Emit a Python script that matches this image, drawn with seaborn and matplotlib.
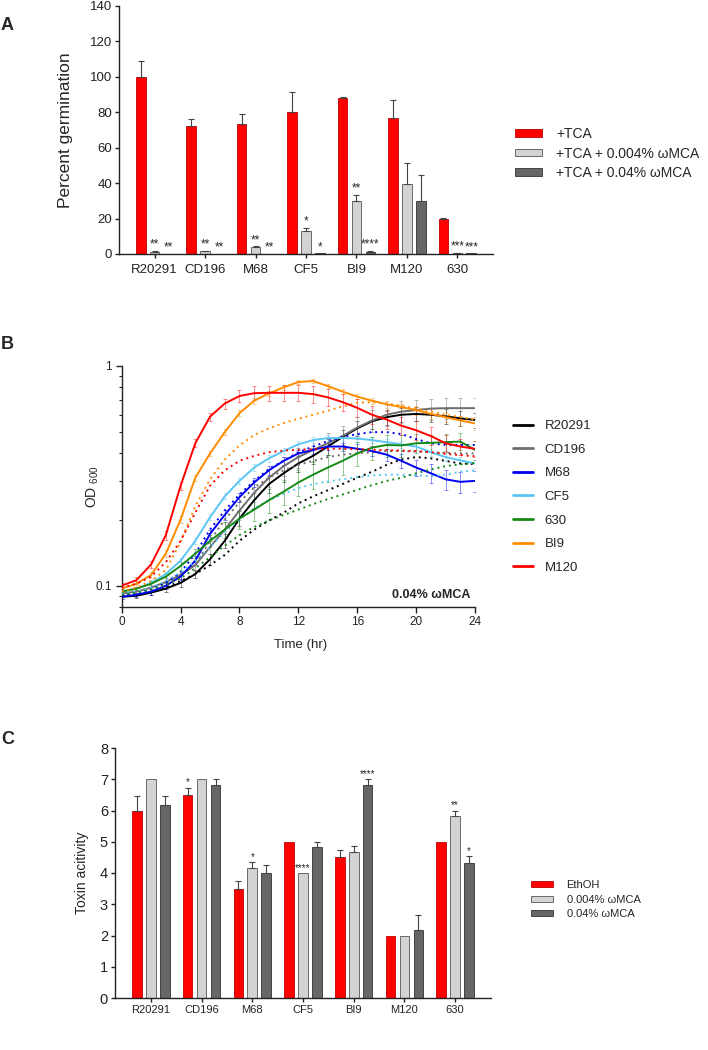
import numpy as np
import pandas as pd
import matplotlib
matplotlib.use("Agg")
import matplotlib.pyplot as plt
import seaborn as sns
from matplotlib.lines import Line2D
from matplotlib.patches import Patch
from matplotlib.ticker import LogLocator, NullFormatter, FixedLocator, FixedFormatter

strains = ["R20291", "CD196", "M68", "CF5", "BI9", "M120", "630"]

# --- A: germination (%) ---
germ_tca = [100, 72.5, 73.5, 80, 88, 77, 20]
germ_tca_err = [9, 3.5, 5.5, 11.5, 0.5, 10, 0.3]
germ_low = [1, 1.5, 4, 13, 30, 39.5, 0.5]
germ_low_err = [0.6, 0.3, 0.3, 1.5, 3.5, 12, 0.2]
germ_high = [0, 0.2, 0, 0.3, 1.2, 30, 0.3]
germ_high_err = [0, 0, 0, 0, 0.3, 14.5, 0]
germ_stars_tca = ["", "", "", "", "", "", ""]
germ_stars_low = ["**", "**", "**", "*", "**", "", "***"]
germ_stars_high = ["**", "**", "**", "*", "****", "", "***"]
labels_a = ["+TCA", "+TCA + 0.004% ωMCA", "+TCA + 0.04% ωMCA"]

# --- B: growth curves, OD600 every hour (solid = no MCA, dotted = 0.04% ωMCA) ---
hours = list(range(25))
od_r20291 = [0.089, 0.090, 0.093, 0.097, 0.103, 0.113, 0.132, 0.160, 0.202, 0.245, 0.290, 0.325, 0.360,
             0.390, 0.430, 0.475, 0.520, 0.560, 0.585, 0.600, 0.605, 0.600, 0.590, 0.578, 0.568]
od_r20291_mca = [0.090, 0.091, 0.094, 0.098, 0.105, 0.113, 0.124, 0.138, 0.160, 0.180, 0.198, 0.215, 0.237,
                 0.255, 0.272, 0.290, 0.310, 0.330, 0.355, 0.375, 0.385, 0.380, 0.370, 0.360, 0.358]
od_cd196 = [0.092, 0.094, 0.098, 0.104, 0.112, 0.124, 0.150, 0.180, 0.220, 0.265, 0.310, 0.350, 0.385,
            0.415, 0.445, 0.480, 0.525, 0.565, 0.600, 0.620, 0.630, 0.640, 0.643, 0.643, 0.643]
od_cd196_mca = [0.091, 0.093, 0.097, 0.103, 0.112, 0.125, 0.160, 0.200, 0.240, 0.280, 0.310, 0.335, 0.355,
                0.370, 0.385, 0.395, 0.400, 0.405, 0.410, 0.410, 0.408, 0.405, 0.402, 0.400, 0.400]
od_m68 = [0.089, 0.091, 0.094, 0.100, 0.110, 0.130, 0.172, 0.210, 0.253, 0.295, 0.335, 0.370, 0.400,
          0.415, 0.430, 0.430, 0.420, 0.410, 0.395, 0.370, 0.345, 0.325, 0.305, 0.297, 0.300]
od_m68_mca = [0.090, 0.092, 0.096, 0.103, 0.115, 0.140, 0.180, 0.220, 0.260, 0.300, 0.340, 0.370, 0.405,
              0.430, 0.455, 0.475, 0.490, 0.500, 0.500, 0.490, 0.465, 0.445, 0.437, 0.437, 0.437]
od_cf5 = [0.094, 0.097, 0.103, 0.113, 0.130, 0.160, 0.205, 0.255, 0.300, 0.345, 0.380, 0.410, 0.440,
          0.460, 0.470, 0.470, 0.468, 0.460, 0.450, 0.440, 0.430, 0.405, 0.385, 0.372, 0.360]
od_cf5_mca = [0.092, 0.094, 0.098, 0.105, 0.115, 0.130, 0.150, 0.175, 0.200, 0.225, 0.245, 0.262, 0.278,
              0.290, 0.298, 0.305, 0.312, 0.318, 0.320, 0.320, 0.318, 0.315, 0.320, 0.330, 0.335]
od_630 = [0.094, 0.097, 0.102, 0.110, 0.123, 0.140, 0.160, 0.180, 0.202, 0.222, 0.245, 0.268, 0.295,
          0.320, 0.345, 0.370, 0.400, 0.425, 0.437, 0.435, 0.445, 0.447, 0.450, 0.453, 0.415]
od_630_mca = [0.091, 0.093, 0.096, 0.101, 0.108, 0.120, 0.135, 0.152, 0.170, 0.185, 0.198, 0.210, 0.222,
              0.235, 0.248, 0.260, 0.273, 0.287, 0.300, 0.310, 0.325, 0.338, 0.350, 0.357, 0.362]
od_bi9 = [0.097, 0.102, 0.112, 0.140, 0.200, 0.310, 0.400, 0.500, 0.610, 0.695, 0.750, 0.800, 0.845,
          0.855, 0.810, 0.765, 0.725, 0.695, 0.670, 0.650, 0.630, 0.605, 0.585, 0.565, 0.548]
od_bi9_mca = [0.094, 0.098, 0.105, 0.118, 0.158, 0.230, 0.305, 0.375, 0.435, 0.485, 0.520, 0.550, 0.575,
              0.600, 0.625, 0.655, 0.680, 0.685, 0.675, 0.660, 0.640, 0.620, 0.600, 0.585, 0.570]
od_m120 = [0.100, 0.106, 0.125, 0.170, 0.285, 0.445, 0.588, 0.675, 0.730, 0.752, 0.755, 0.755, 0.755,
           0.745, 0.720, 0.685, 0.645, 0.600, 0.570, 0.535, 0.510, 0.480, 0.445, 0.430, 0.420]
od_m120_mca = [0.098, 0.102, 0.110, 0.128, 0.160, 0.215, 0.285, 0.335, 0.370, 0.390, 0.405, 0.412, 0.416,
               0.418, 0.420, 0.420, 0.418, 0.416, 0.414, 0.412, 0.410, 0.405, 0.398, 0.393, 0.388]

err_r20291 = [0.002, 0.002, 0.002, 0.003, 0.004, 0.005, 0.008, 0.012, 0.016, 0.020, 0.025, 0.028, 0.030,
              0.033, 0.035, 0.038, 0.040, 0.042, 0.044, 0.045, 0.045, 0.045, 0.045, 0.045, 0.045]
err_cd196 = [0.002, 0.002, 0.003, 0.004, 0.005, 0.007, 0.010, 0.015, 0.020, 0.025, 0.030, 0.035, 0.040,
             0.045, 0.050, 0.055, 0.060, 0.065, 0.065, 0.070, 0.070, 0.070, 0.070, 0.070, 0.070]
err_m68 = [0.002, 0.002, 0.003, 0.003, 0.004, 0.006, 0.008, 0.010, 0.012, 0.014, 0.015, 0.016, 0.016,
           0.016, 0.016, 0.018, 0.020, 0.022, 0.025, 0.028, 0.030, 0.032, 0.033, 0.033, 0.033]
err_cf5 = [0.002, 0.002, 0.003, 0.003, 0.004, 0.005, 0.006, 0.008, 0.010, 0.012, 0.013, 0.014, 0.015,
           0.015, 0.015, 0.015, 0.015, 0.015, 0.015, 0.015, 0.015, 0.015, 0.015, 0.015, 0.015]
err_630 = [0.002, 0.002, 0.003, 0.004, 0.005, 0.007, 0.010, 0.015, 0.020, 0.025, 0.030, 0.035, 0.040,
           0.045, 0.050, 0.050, 0.050, 0.050, 0.050, 0.050, 0.045, 0.040, 0.040, 0.040, 0.040]
err_bi9 = [0.002, 0.003, 0.004, 0.005, 0.007, 0.010, 0.012, 0.015, 0.018, 0.020, 0.020, 0.020, 0.020,
           0.020, 0.020, 0.020, 0.020, 0.020, 0.025, 0.025, 0.030, 0.030, 0.030, 0.030, 0.035]
err_m120 = [0.003, 0.004, 0.005, 0.008, 0.012, 0.018, 0.025, 0.035, 0.045, 0.055, 0.060, 0.065, 0.065,
            0.065, 0.065, 0.060, 0.060, 0.055, 0.055, 0.050, 0.050, 0.045, 0.040, 0.035, 0.035]

strains_b = ["R20291", "CD196", "M68", "CF5", "630", "BI9", "M120"]
colors_b = ["#000000", "#6E6E6E", "#0000F0", "#5BC6F5", "#168A16", "#FF8C00", "#FF0000"]
od_ctrl = [od_r20291, od_cd196, od_m68, od_cf5, od_630, od_bi9, od_m120]
od_mca = [od_r20291_mca, od_cd196_mca, od_m68_mca, od_cf5_mca, od_630_mca, od_bi9_mca, od_m120_mca]
od_err = [err_r20291, err_cd196, err_m68, err_cf5, err_630, err_bi9, err_m120]

# --- C: toxin activity ---
toxin_eth = [6.0, 6.5, 3.5, 5.0, 4.5, 2.0, 5.0]
toxin_eth_err = [0.45, 0.23, 0.23, 0, 0.23, 0, 0]
toxin_low = [7.0, 7.0, 4.17, 4.0, 4.67, 2.0, 5.83]
toxin_low_err = [0, 0, 0.17, 0, 0.21, 0, 0.17]
toxin_high = [6.17, 6.83, 4.0, 4.83, 6.83, 2.17, 4.33]
toxin_high_err = [0.31, 0.17, 0.25, 0.17, 0.17, 0.48, 0.2]
toxin_stars_eth = ["", "*", "", "", "", "", ""]
toxin_stars_low = ["", "", "*", "****", "", "", "**"]
toxin_stars_high = ["", "", "", "", "****", "", "*"]
labels_c = ["EthOH", "0.004% ωMCA", "0.04% ωMCA"]

bar_colors = ["#FF0000", "#D3D3D3", "#666666"]
bar_edges = ["#C00000", "#555555", "#333333"]

W, H = 708, 1050


def px_box(left, top, right, bottom):
    return [left / W, 1 - bottom / H, (right - left) / W, (bottom - top) / H]


sns.set_style("ticks")
plt.rcParams["font.family"] = ["Liberation Sans", "DejaVu Sans"]
plt.rcParams["axes.edgecolor"] = "#222222"
plt.rcParams["axes.linewidth"] = 1.0
plt.rcParams["xtick.color"] = "#222222"
plt.rcParams["ytick.color"] = "#222222"

fig = plt.figure(figsize=(W / 100, H / 100), dpi=100)
axA = fig.add_axes(px_box(119, 6, 493, 254))
axB = fig.add_axes(px_box(121.7, 366, 475, 607))
axC = fig.add_axes(px_box(115, 748, 491, 998))


def bar_panel(ax, vals, errs, stars, groups, star_fs):
    df = pd.DataFrame({
        "strain": strains * len(groups),
        "value": [v for series in vals for v in series],
        "group": [g for g in groups for _ in strains],
    })
    sns.barplot(data=df, x="strain", y="value", hue="group", palette=bar_colors,
                width=0.825, gap=0.31, errorbar=None, legend=False, ax=ax,
                linewidth=0.6, edgecolor="#333333", saturation=1)
    for cont, err, st, ec in zip(ax.containers, errs, stars, bar_edges):
        for bar, e, s in zip(cont, err, st):
            bar.set_edgecolor(ec)
            x = bar.get_x() + bar.get_width() / 2
            h = bar.get_height()
            if e > 0:
                ax.errorbar(x, h, yerr=[[0], [e]], fmt="none", ecolor="#444444",
                            elinewidth=0.8, capsize=2.5, capthick=0.8)
            if s:
                ax.annotate(s, (x, h + e), xytext=(0, 0.3), textcoords="offset points",
                            ha="center", va="bottom", fontsize=star_fs)
    ax.set_xlabel("")


# ---- Panel A ----
bar_panel(axA, [germ_tca, germ_low, germ_high],
          [germ_tca_err, germ_low_err, germ_high_err],
          [germ_stars_tca, germ_stars_low, germ_stars_high], labels_a, 8.5)
axA.set_ylim(0, 140)
axA.set_yticks(np.arange(0, 141, 20))
axA.set_ylabel("Percent germination", fontsize=12.5)
axA.yaxis.label.set_va("center")
axA.yaxis.set_label_coords(-0.144, 0.5)
axA.tick_params(axis="both", length=3, width=1, labelsize=9.5, pad=2)
axA.tick_params(axis="x", pad=4)
sns.despine(ax=axA)
fig.legend([Patch(facecolor=c, edgecolor=e, lw=0.6) for c, e in zip(bar_colors, bar_edges)],
           labels_a, loc="upper left", bbox_to_anchor=(515 / W, 1 - 127 / H), frameon=False,
           fontsize=10, handlelength=1.95, handleheight=0.45, handletextpad=1.0,
           labelspacing=0.4, borderpad=0, borderaxespad=0)

# ---- Panel B ----
rows = []
for name, ctrl, mca in zip(strains_b, od_ctrl, od_mca):
    for t, a, b in zip(hours, ctrl, mca):
        rows.append({"time": t, "od": a, "strain": name, "cond": "control"})
        rows.append({"time": t, "od": b, "strain": name, "cond": "0.04% ωMCA"})
dfB = pd.DataFrame(rows)

for name, c, ctrl, err in zip(strains_b, colors_b, od_ctrl, od_err):
    axB.errorbar(hours, ctrl, yerr=err, fmt="none", ecolor=c, alpha=0.45,
                 elinewidth=0.7, capsize=1.6, capthick=0.7, zorder=1)
sns.lineplot(data=dfB, x="time", y="od", hue="strain", style="cond",
             palette=dict(zip(strains_b, colors_b)), hue_order=strains_b,
             dashes={"control": "", "0.04% ωMCA": (1, 2)}, linewidth=1.4,
             errorbar=None, legend=False, ax=axB, zorder=3)
axB.set_yscale("log")
axB.set_ylim(0.08, 1)
axB.set_xlim(0, 24)
axB.set_xticks(np.arange(0, 25, 4))
axB.yaxis.set_major_locator(FixedLocator([0.1, 1]))
axB.yaxis.set_major_formatter(FixedFormatter(["0.1", "1"]))
axB.yaxis.set_minor_locator(LogLocator(base=10, subs=np.arange(2, 10)))
axB.yaxis.set_minor_formatter(NullFormatter())
axB.tick_params(axis="x", length=4, width=1, labelsize=8.5, pad=2.5)
axB.tick_params(axis="y", which="major", length=4.5, width=1, labelsize=8.5, pad=2.5)
axB.tick_params(axis="y", which="minor", length=2.5, width=0.8)
axB.set_xlabel("Time (hr)", fontsize=9.5)
axB.xaxis.label.set_va("center")
axB.xaxis.set_label_coords(0.505, -0.158)
axB.set_ylabel(r"OD $_{\mathregular{600}}$", fontsize=10)
axB.yaxis.label.set_va("center")
axB.yaxis.set_label_coords(-0.081, 0.5)
axB.text(0.986, 0.05, "0.04% ωMCA", transform=axB.transAxes, ha="right", va="center",
         fontsize=9, fontweight="bold")
sns.despine(ax=axB)
fig.legend([Line2D([0], [0], color=c, lw=2) for c in colors_b], strains_b,
           loc="upper left", bbox_to_anchor=(513 / W, 1 - 420 / H), frameon=False,
           fontsize=9.5, handlelength=1.5, handletextpad=0.9, labelspacing=0.86,
           borderpad=0, borderaxespad=0)

# ---- Panel C ----
bar_panel(axC, [toxin_eth, toxin_low, toxin_high],
          [toxin_eth_err, toxin_low_err, toxin_high_err],
          [toxin_stars_eth, toxin_stars_low, toxin_stars_high], labels_c, 7)
axC.set_ylim(0, 8)
axC.set_yticks(np.arange(0, 9, 1))
axC.set_ylabel("Toxin acitivity", fontsize=10)
axC.yaxis.label.set_va("center")
axC.yaxis.set_label_coords(-0.088, 0.5)
axC.tick_params(axis="y", length=3, width=1, labelsize=10.5, pad=2)
axC.tick_params(axis="x", length=3, width=1, labelsize=8, pad=2)
sns.despine(ax=axC)
fig.legend([Patch(facecolor=c, edgecolor=e, lw=0.6) for c, e in zip(bar_colors, bar_edges)],
           labels_c, loc="upper left", bbox_to_anchor=(531 / W, 1 - 880 / H), frameon=False,
           fontsize=8, handlelength=2.0, handleheight=0.42, handletextpad=1.2,
           labelspacing=0.42, borderpad=0, borderaxespad=0)

# panel letters
for letter, y in [("A", 26), ("B", 345), ("C", 740)]:
    fig.text(1 / W, 1 - y / H, letter, fontsize=13, fontweight="bold", ha="left", va="center")

fig.savefig("out.png", dpi=100)
